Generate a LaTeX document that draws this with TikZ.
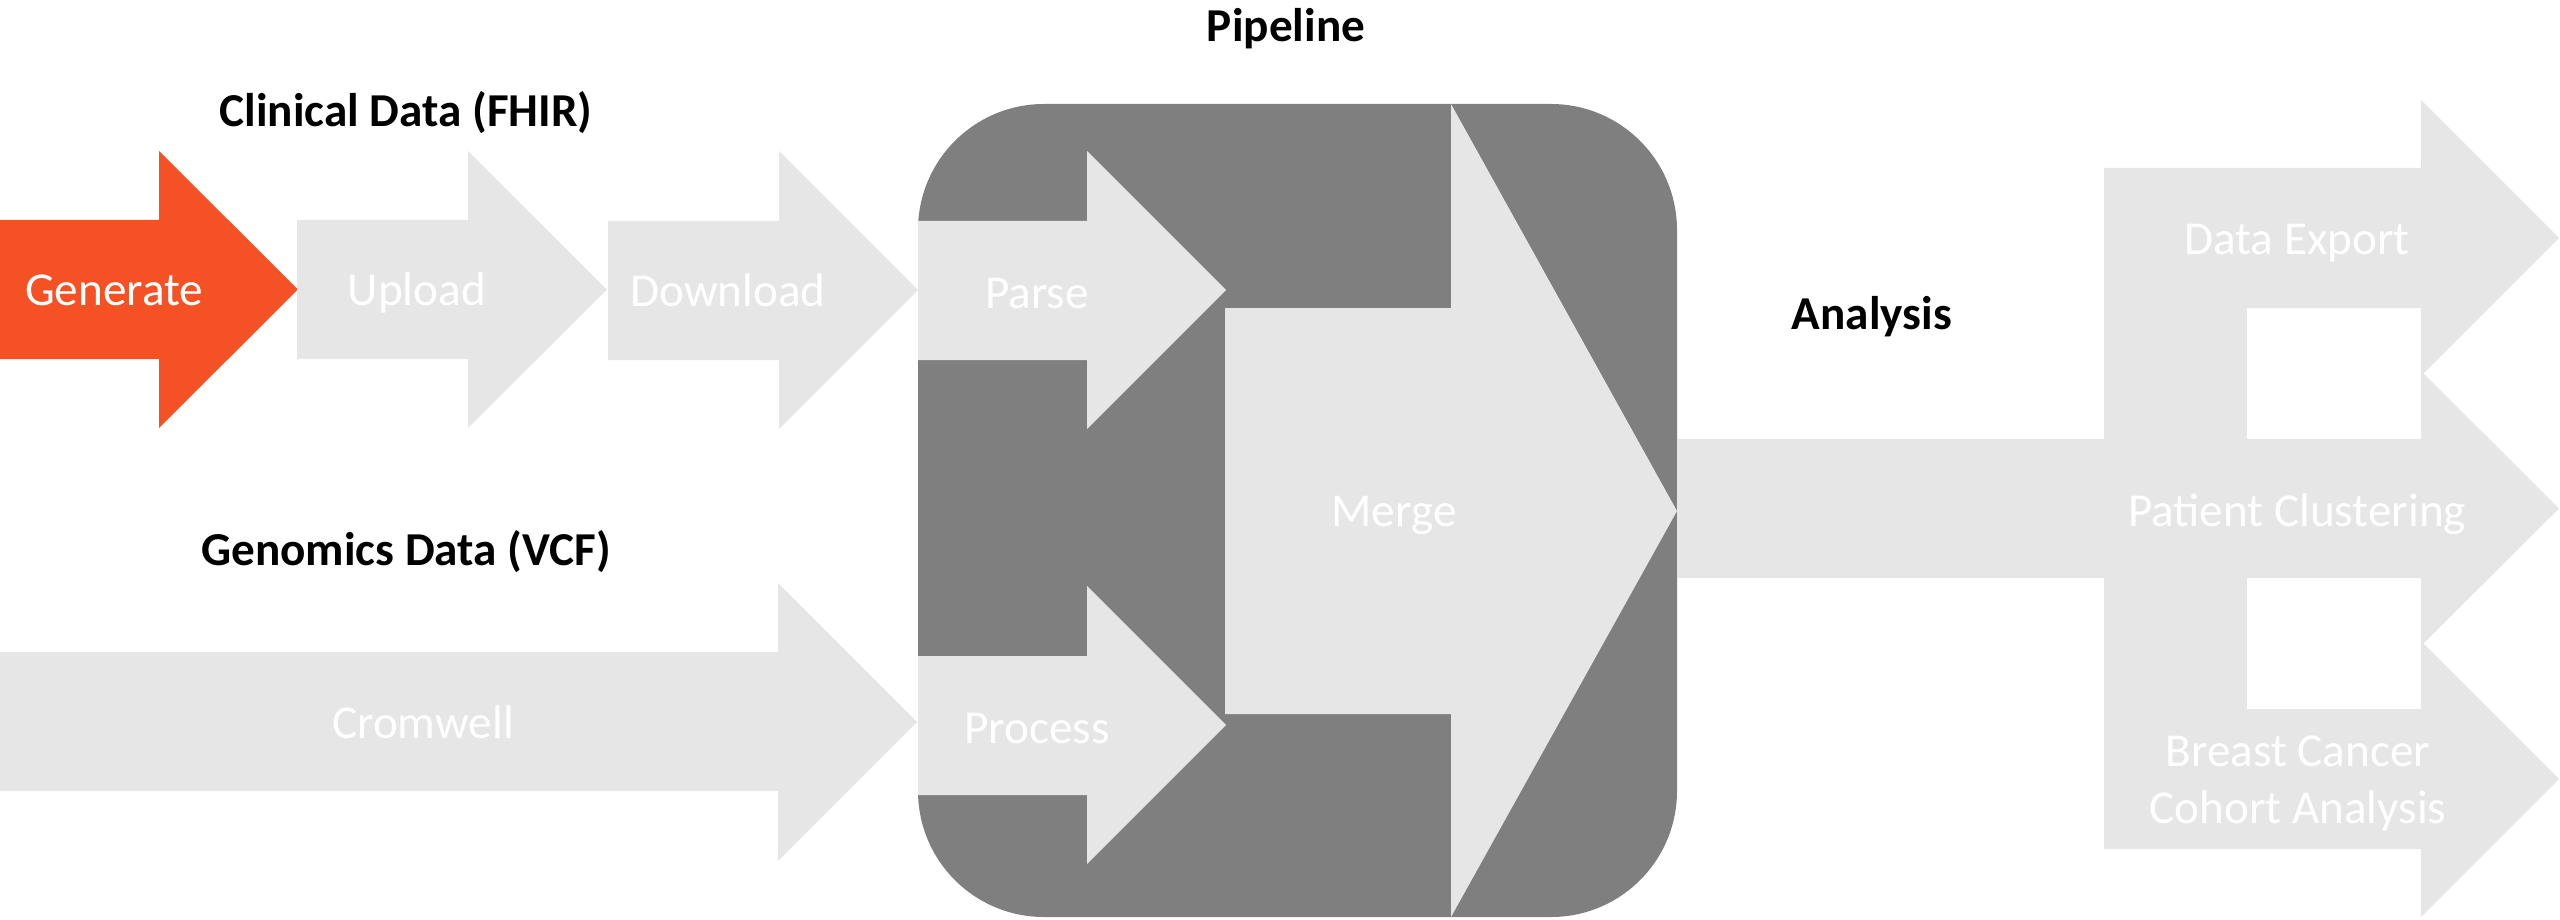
\documentclass[tikz,border=0pt]{standalone}
\usepackage{fontspec}
\setmainfont{Carlito}
\usetikzlibrary{calc}

\definecolor{genorange}{RGB}{244,82,37}
\definecolor{boxgray}{RGB}{127,127,127}
\definecolor{stepgray}{RGB}{230,230,230}

\tikzset{
  stepshape/.style={fill=stepgray},
  activeshape/.style={fill=genorange},
  steplabel/.style={text=white,font=\fontsize{35.4}{42.75}\selectfont,anchor=base,inner sep=0pt},
  headlabel/.style={text=black,font=\fontsize{35.4}{42.5}\selectfont\bfseries,anchor=base,inner sep=0pt}
}

\begin{document}
\begin{tikzpicture}[x=0.75pt,y=0.75pt,yscale=-1,xscale=1]
\useasboundingbox (0,0) rectangle (2560,920);

%Shape: Rounded Rect [id:pipeline box]
\fill [boxgray, rounded corners=94.5pt] (918,104) rectangle (1677,917) ;

%Shape: Right Arrow [id:generate]
\fill [activeshape] (0,220) -- (159,220) -- (159,151) -- (298,289.5) -- (159,428) -- (159,359) -- (0,359) -- cycle ;
%Shape: Right Arrow [id:upload]
\fill [stepshape] (297,220) -- (468,220) -- (468,151) -- (607,289.5) -- (468,428) -- (468,359) -- (297,359) -- cycle ;
%Shape: Right Arrow [id:download]
\fill [stepshape] (608,221) -- (779,221) -- (779,151) -- (918,290) -- (779,429) -- (779,360) -- (608,360) -- cycle ;
%Shape: Right Arrow [id:cromwell]
\fill [stepshape] (0,652) -- (778,652) -- (778,583) -- (917,722) -- (778,861) -- (778,791) -- (0,791) -- cycle ;

%Shape: Right Arrow [id:parse]
\fill [stepshape] (918,221) -- (1087,221) -- (1087,151) -- (1226,290) -- (1087,429) -- (1087,360) -- (918,360) -- cycle ;
%Shape: Right Arrow [id:process]
\fill [stepshape] (918,656) -- (1087,656) -- (1087,586) -- (1226,725) -- (1087,864) -- (1087,795) -- (918,795) -- cycle ;
%Shape: Right Arrow [id:merge]
\fill [stepshape] (1225,308) -- (1451,308) -- (1451,104) -- (1677,511) -- (1451,917) -- (1451,714) -- (1225,714) -- cycle ;

%Shape: Rectangle [id:analysis stem]
\fill [stepshape] (1677,439) rectangle (2104,578) ;
%Shape: Rectangle [id:analysis bar]
\fill [stepshape] (2104,168) rectangle (2247,849) ;
%Shape: Right Arrow [id:export]
\fill [stepshape] (2104,168) -- (2421,168) -- (2421,100) -- (2559,238) -- (2421,376) -- (2421,308) -- (2104,308) -- cycle ;
%Shape: Right Arrow [id:clustering]
\fill [stepshape] (2104,439) -- (2421,439) -- (2421,371) -- (2559,508.5) -- (2421,646) -- (2421,578) -- (2104,578) -- cycle ;
%Shape: Right Arrow [id:cohort]
\fill [stepshape] (2104,709) -- (2421,709) -- (2421,641) -- (2559,779) -- (2421,917) -- (2421,849) -- (2104,849) -- cycle ;

% Text Node
\node [headlabel] (pipeline) at (1286,42) {Pipeline};
% Text Node
\node [headlabel] (clinical) at (406,127) {Clinical Data (FHIR)};
% Text Node
\node [headlabel] (genomics) at (406,565) {Genomics Data (VCF)};
% Text Node
\node [headlabel] (analysis) at (1872,329) {Analysis};

% Text Node
\node [steplabel] (generate) at (114,305) {Generate};
% Text Node
\node [steplabel] (upload) at (417,305) {Upload};
% Text Node
\node [steplabel] (download) at (728,306) {Download};
% Text Node
\node [steplabel] (cromwell) at (423,738) {Cromwell};
% Text Node
\node [steplabel] (parse) at (1037,308) {Parse};
% Text Node
\node [steplabel] (process) at (1037,743) {Process};
% Text Node
\node [steplabel] (merge) at (1394,526) {Merge};
% Text Node
\node [steplabel] (export) at (2297,254) {Data Export};
% Text Node
\node [steplabel] (clustering) at (2297,526) {Patient Clustering};
% Text Node
\node [steplabel, anchor=center, align=center] (cohort) at (2298,783) {Breast Cancer\\Cohort Analysis};

\end{tikzpicture}
\end{document}
